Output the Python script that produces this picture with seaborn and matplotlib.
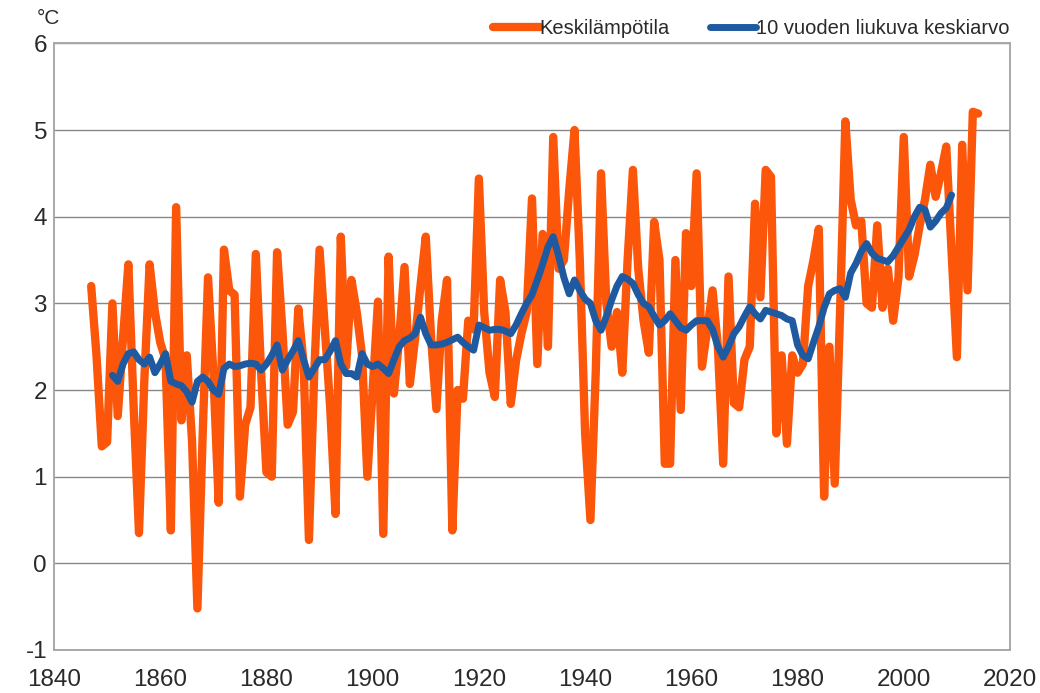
import matplotlib
matplotlib.use("Agg")
import matplotlib.pyplot as plt
import pandas as pd
import seaborn as sns

# Annual mean temperature in Finland (°C), 1847-2014
years = list(range(1847, 2015))
mean_temp = [
    3.20, 2.40, 1.35, 1.40, 3.00, 1.70, 2.60, 3.45, 1.80, 0.35,   # 1847-1856
    2.10, 3.45, 2.90, 2.55, 2.35, 0.38, 4.11, 1.65, 2.40, 1.40,   # 1857-1866
    -0.52, 1.50, 3.30, 2.20, 0.70, 3.62, 3.15, 3.10, 0.77, 1.60,  # 1867-1876
    1.80, 3.57, 2.20, 1.05, 1.00, 3.59, 2.70, 1.60, 1.75, 2.94,   # 1877-1886
    2.30, 0.27, 2.20, 3.62, 2.70, 1.80, 0.57, 3.77, 2.27, 3.27,   # 1887-1896
    2.90, 2.40, 1.00, 2.00, 3.02, 0.34, 3.54, 1.96, 2.60, 3.42,   # 1897-1906
    2.07, 2.60, 3.20, 3.77, 2.60, 1.78, 2.80, 3.27, 0.38, 2.00,   # 1907-1916
    1.90, 2.80, 2.70, 4.44, 2.90, 2.20, 1.92, 3.27, 2.90, 1.84,   # 1917-1926
    2.34, 2.65, 2.90, 4.21, 2.30, 3.80, 2.50, 4.92, 3.40, 3.50,   # 1927-1936
    4.30, 5.00, 3.50, 1.50, 0.50, 2.20, 4.50, 3.00, 2.50, 2.90,   # 1937-1946
    2.20, 3.50, 4.54, 3.40, 2.80, 2.43, 3.94, 3.50, 1.15, 1.15,   # 1947-1956
    3.50, 1.77, 3.81, 3.20, 4.50, 2.27, 2.70, 3.15, 2.50, 1.15,   # 1957-1966
    3.31, 1.85, 1.80, 2.35, 2.50, 4.15, 3.07, 4.54, 4.46, 1.50,   # 1967-1976
    2.40, 1.38, 2.40, 2.20, 2.30, 3.20, 3.50, 3.86, 0.77, 2.50,   # 1977-1986
    0.92, 2.90, 5.10, 4.20, 3.90, 3.95, 3.00, 2.95, 3.90, 2.95,   # 1987-1996
    3.40, 2.80, 3.30, 4.92, 3.31, 3.55, 3.90, 4.20, 4.60, 4.23,   # 1997-2006
    4.50, 4.81, 3.60, 2.38, 4.83, 3.15, 5.21, 5.19,               # 2007-2014
]

# 10-year moving average (°C), centred, 1851-2009
ma_years = list(range(1851, 2010))
moving_avg = [
    2.17, 2.10, 2.30, 2.42, 2.44, 2.35, 2.30, 2.38, 2.20, 2.30,   # 1851-1860
    2.42, 2.10, 2.07, 2.05, 1.98, 1.86, 2.10, 2.15, 2.10, 2.00,   # 1861-1870
    1.95, 2.25, 2.30, 2.27, 2.28, 2.30, 2.31, 2.30, 2.23, 2.30,   # 1871-1880
    2.40, 2.52, 2.23, 2.35, 2.45, 2.57, 2.35, 2.15, 2.25, 2.35,   # 1881-1890
    2.35, 2.45, 2.57, 2.30, 2.19, 2.19, 2.15, 2.42, 2.30, 2.27,   # 1891-1900
    2.30, 2.25, 2.19, 2.35, 2.50, 2.57, 2.60, 2.65, 2.84, 2.65,   # 1901-1910
    2.52, 2.52, 2.53, 2.55, 2.58, 2.61, 2.55, 2.50, 2.46, 2.75,   # 1911-1920
    2.72, 2.69, 2.70, 2.70, 2.68, 2.65, 2.75, 2.88, 3.00, 3.10,   # 1921-1930
    3.27, 3.45, 3.65, 3.77, 3.55, 3.30, 3.11, 3.27, 3.15, 3.05,   # 1931-1940
    3.00, 2.80, 2.69, 2.85, 3.04, 3.20, 3.31, 3.28, 3.23, 3.10,   # 1941-1950
    3.00, 2.96, 2.85, 2.75, 2.80, 2.88, 2.80, 2.72, 2.69, 2.75,   # 1951-1960
    2.80, 2.80, 2.80, 2.70, 2.50, 2.38, 2.50, 2.65, 2.73, 2.85,   # 1961-1970
    2.96, 2.88, 2.82, 2.92, 2.90, 2.88, 2.86, 2.82, 2.80, 2.52,   # 1971-1980
    2.40, 2.36, 2.55, 2.73, 2.95, 3.11, 3.15, 3.17, 3.07, 3.35,   # 1981-1990
    3.46, 3.60, 3.69, 3.58, 3.52, 3.50, 3.48, 3.55, 3.65, 3.75,   # 1991-2000
    3.85, 4.00, 4.11, 4.08, 3.88, 3.95, 4.04, 4.10, 4.25,         # 2001-2009
]

x_ticks = [1840, 1860, 1880, 1900, 1920, 1940, 1960, 1980, 2000, 2020]
y_ticks = [-1, 0, 1, 2, 3, 4, 5, 6]

ORANGE = "#FB560A"
BLUE = "#1F5AA0"
TEXT = "#2a2a2a"

sns.set_theme(style="white")
plt.rcParams["font.family"] = ["Liberation Sans", "DejaVu Sans"]

W, H = 1040, 693
fig = plt.figure(figsize=(W / 100, H / 100), dpi=100)
ax = fig.add_axes([54 / W, 1 - 650 / H, (1010 - 54) / W, (650 - 43.4) / H])

temp_df = pd.DataFrame({"vuosi": years, "lampotila": mean_temp})
ma_df = pd.DataFrame({"vuosi": ma_years, "lampotila": moving_avg})

sns.lineplot(data=temp_df, x="vuosi", y="lampotila", ax=ax, color=ORANGE,
             linewidth=6.0, label="Keskilämpötila",
             solid_joinstyle="round", solid_capstyle="round")
sns.lineplot(data=ma_df, x="vuosi", y="lampotila", ax=ax, color=BLUE,
             linewidth=5.0, label="10 vuoden liukuva keskiarvo",
             solid_joinstyle="round", solid_capstyle="round")

ax.set_xlim(1840, 2020)
ax.set_ylim(-1, 6)
ax.set_xticks(x_ticks)
ax.set_yticks(y_ticks)
ax.set_xticklabels([str(t) for t in x_ticks])
ax.set_yticklabels([str(t) for t in y_ticks])
ax.set_xlabel("")
ax.set_ylabel("")

ax.grid(axis="y", color="#888888", linewidth=1.0)
ax.grid(axis="x", visible=False)
ax.set_axisbelow(True)
for side in ax.spines.values():
    side.set_color("#a8a8a8")
    side.set_linewidth(1.4)

ax.tick_params(axis="both", length=0, labelsize=17.5, colors=TEXT)
ax.tick_params(axis="x", pad=14)
ax.tick_params(axis="y", pad=5)

# unit label above the value axis
fig.text(37 / W, 1 - 18 / H, "°C", fontsize=15, color=TEXT,
         ha="left", va="center")

handles, labels = ax.get_legend_handles_labels()
ax.get_legend().remove()
leg = fig.legend(handles, labels, loc="center right",
                 bbox_to_anchor=(1028 / W, 1 - 29 / H), ncol=2,
                 frameon=False, fontsize=14.5, handlelength=2.3,
                 handletextpad=0.0, columnspacing=2.0)
for t in leg.get_texts():
    t.set_color(TEXT)

fig.savefig("out.png", dpi=100, facecolor="white")
